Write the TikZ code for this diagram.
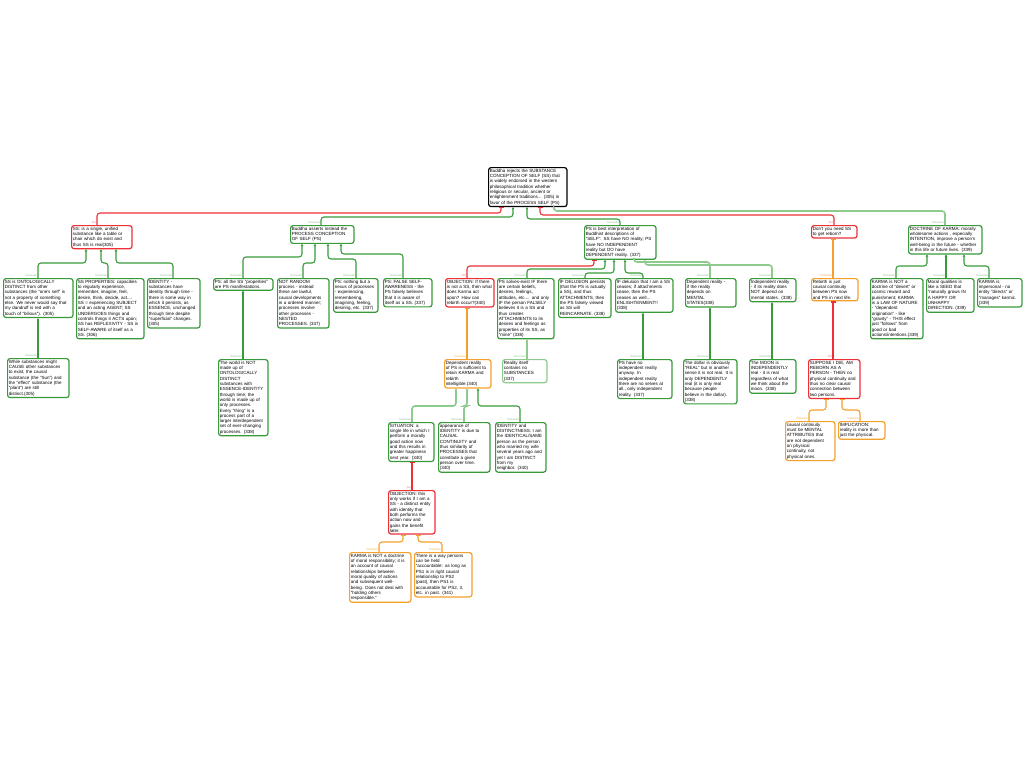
\documentclass[tikz,border=0pt]{standalone}
\usepackage{fontspec}
\setmainfont{Liberation Sans}
\usetikzlibrary{arrows.meta}
\definecolor{progreen}{HTML}{389A3A}
\definecolor{prolight}{HTML}{8CCB8C}
\definecolor{conred}{HTML}{EE3035}
\definecolor{rebut}{HTML}{F5A02A}
% parent, x at parent, y of the bend, child, x at child
\newcommand{\edgeto}[7]{\draw[#1] (#2.south -| #3,0) -- (#3,#4) -| (#5.north -| #6,0) node[lbl#1] {#7};}
\begin{document}
\begin{tikzpicture}[x=1pt,y=-1pt,
  box/.style={anchor=north west, align=left, rounded corners=2.5pt, line width=1.2pt, fill=white,
    inner xsep=1.2pt, inner ysep=1.5pt, font=\fontsize{4.5}{5.3}\selectfont},
  rootbox/.style={box, draw=black},
  gbox/.style={box, draw=progreen},
  glbox/.style={box, draw=prolight},
  rbox/.style={box, draw=conred},
  obox/.style={box, draw=rebut},
  pro/.style={draw=progreen, line width=1.1pt, rounded corners=3pt, {Triangle[length=2pt,width=2.6pt]}-},
  prol/.style={pro, draw=prolight, line width=1.6pt},
  con/.style={draw=conred, line width=1.1pt, rounded corners=3pt, {Bar[width=5pt]}-},
  reb/.style={con, draw=rebut},
  lbl/.style={anchor=south east, inner sep=0.5pt, font=\fontsize{3}{3}\selectfont},
  lblpro/.style={lbl, text=progreen!55},
  lblprol/.style={lblpro},
  lblcon/.style={lbl, text=conred!60},
  lblreb/.style={lbl, text=rebut!85}]
\useasboundingbox[fill=white] (0,0) rectangle (1024,768);

% claim
\node[rootbox, text width=76pt] (root) at (488,167) {Buddha rejects the SUBSTANCE\\CONCEPTION OF SELF (SS) that\\is widely endorsed in the western\\philosophical tradition whether\\religious or secular, ancient or\\enlightenment traditions... (305) in\\favor of the PROCESS SELF (PS)};

% first row
\node[rbox, text width=58pt] (ss) at (71,225) {SS: is a single, unified\\substance like a table or\\chair which do exist and\\thus SS is real(305)};
\node[gbox, text width=61pt] (ps) at (290,225) {Buddha asserts instead the\\PROCESS CONCEPTION\\OF SELF (PS)};
\node[gbox, text width=69pt] (best) at (584,225) {PS is best interpretation of\\Buddhist descriptions of\\"SELF": SS have NO reality; PS\\have NO INDEPENDENT\\reality but DO have\\DEPENDENT reality. (337)};
\node[rbox, text width=43pt] (reborn) at (811,225) {Don't you need SS\\to get reborn?};
\node[gbox, text width=71pt] (karma) at (908,225) {DOCTRINE OF KARMA: morally\\wholesome actions , especially\\INTENTION, improve a person's\\well-being in the future - whether\\in this life or future lives. (339)};

% under SS
\node[gbox, text width=67pt] (onto) at (3,278) {SS is ONTOLOGICALLY\\DISTINCT from other\\substances (the "one's self" is\\not a property of something\\else. We never would say that\\my dandruff is red with a\\touch of "bilious"). (305)};
\node[gbox, text width=65pt] (props) at (76,278) {SS PROPERTIES: capacities\\to regularly experience,\\remember, imagine, feel,\\desire, think, decide, act....\\SS = experiencing SUBJECT\\and an acting AGENT; SS\\UNDERGOES things and\\controls things it ACTS upon;\\SS has REFLEXIVITY - SS is\\SELF-AWARE of itself as a\\SS. (306)};
\node[gbox, text width=50pt] (ident) at (147,278) {IDENTITY -\\substances have\\identity through time -\\there is some way in\\which it persists, as\\ESSENCE, unchanged\\through time despite\\"superficial" changes.\\(305)};
\node[gbox, text width=59pt] (cause) at (7,358) {While substances might\\CAUSE other substances\\to exist, the causal\\substance (the "Sun") and\\the "effect" substance (the\\"plant") are still\\distinct.(305)};

% under PS
\node[gbox, text width=57pt] (psall) at (213,278) {PS: all the SS "properties"\\are PS manifestations.};
\node[gbox, text width=49pt] (random) at (277,278) {NOT RANDOM\\process - instead\\these are lawful,\\causal developments\\in a ordered manner;\\processes involve\\other processes -\\NESTED\\PROCESSES. (337)};
\node[gbox, text width=42pt] (nexus) at (333,278) {PS: nothing but a\\nexus of processes\\- experiencing,\\remembering,\\imagining, feeling,\\desiring, etc. (337)};
\node[gbox, text width=46pt] (false) at (383,278) {PS: FALSE SELF-\\AWARENESS - the\\PS falsely believes\\that it is aware of\\itself as a SS. (337)};
\node[gbox, text width=47pt] (world) at (218,359) {The world is NOT\\made up of\\ONTOLOGICALLY\\DISTINCT\\substances with\\ESSENCE-IDENTITY\\through time; the\\world is made up of\\only processes.\\Every "thing" is a\\process part of a\\larger interdependent\\set of ever-changing\\processes. (338)};

% under best interpretation
\node[rbox, text width=46pt] (objk) at (445,278) {OBJECTION: If there\\is not a SS, then what\\does Karma act\\upon? How can\\rebirth occur?(340)};
\node[gbox, text width=54pt] (solves) at (497,278) {PS solves-exist IF there\\are certain beliefs,\\desires, feelings,\\attitudes, etc.... and only\\IF the person FALSELY\\believes it is a SS and\\thus creates\\ATTACHMENTS to its\\desires and feelings as\\properties of its SS, as\\"mine" (338)};
\node[gbox, text width=50pt] (delus) at (558,278) {IF DELUSION persists\\(that the PS is actually\\a SS), and thus\\ATTACHMENTS, then\\the PS falsely viewed\\as SS will\\REINCARNATE. (338)};
\node[gbox, text width=55pt] (ceases) at (615,278) {IF delusion that I am a SS\\ceases; if attachments\\cease, then the PS\\ceases as well...\\ENLIGHTENMENT!!\\(338)};
\node[gbox, text width=48pt] (dep) at (685,278) {Dependent reality -\\if the reality\\depends on\\MENTAL\\STATES(338)};
\node[gbox, text width=44pt] (indep) at (749,278) {Independent reality\\- if its reality does\\NOT depend on\\mental states. (338)};

\node[obox, text width=44pt] (suff) at (444,359) {Dependent reality\\of PS is sufficient to\\retain KARMA and\\rebirth\\intelligible.(340)};
\node[glbox, text width=42pt] (noss) at (502,359) {Reality itself\\contains no\\SUBSTANCES\\(337)};
\node[gbox, text width=52pt] (noind) at (617,359) {PS have no\\independent reality\\anyway. In\\independent reality\\there are no selves at\\all., only independent\\reality. (337)};
\node[gbox, text width=51pt] (dollar) at (683,359) {The dollar is obviously\\"REAL" but in another\\sense it is not real. It is\\only DEPENDENTLY\\real (it is only real\\because people\\believe in the dollar).\\(338)};
\node[gbox, text width=44pt] (moon) at (749,359) {The MOON is\\INDEPENDENTLY\\real - it is real\\regardless of what\\we think about the\\moon. (338)};

\node[gbox, text width=43pt] (sit) at (388,422) {SITUATION: a\\single life in which I\\perform a morally\\good action now\\and this results in\\greater happiness\\next year. (340)};
\node[gbox, text width=49pt] (appear) at (438,422) {appearance of\\IDENTITY is due to\\CAUSAL\\CONTINUITY and\\thus similarity of\\PROCESSES that\\constitute a given\\person over time.\\(340)};
\node[gbox, text width=48pt] (idist) at (495,422) {IDENTITY and\\DISTINCTNESS: I am\\the IDENTICAL/SAME\\person as the person\\who married my wife\\several years ago and\\yet I am DISTINCT\\from my\\neighbor. (340)};
\node[rbox, text width=44pt] (objw) at (388,490) {OBJECTION: this\\only works if I am a\\SS - a distinct entity\\with identity that\\both performs the\\action now and\\gains the benefit\\later.};
\node[obox, text width=59pt] (notresp) at (349,552) {KARMA is NOT a doctrine\\of moral responsibility; it is\\an account of causal\\relationships between\\moral quality of actions\\and subsequent well-\\being. Does not deal with\\"holding others\\responsible."};
\node[obox, text width=55pt] (account) at (414,552) {There is a way persons\\can be held\\"accountable: as long as\\PS1 is in right causal\\relationship to PS2\\(past), then PS1 is\\accountable for PS2, 3,\\etc. in past. (341)};

% under rebirth question
\node[obox, text width=44pt] (contin) at (811,278) {Rebirth is just\\causal continuity\\between PS now\\and PS in next life.};
\node[rbox, text width=49pt] (suppose) at (808,359) {SUPPOSE I DIE, AM\\REBORN AS A\\PERSON - THEN no\\physical continuity and\\thus no clear causal\\connection between\\two persons.};
\node[obox, text width=47pt] (mental) at (785,421) {causal continuity\\must be MENTAL\\ATTRIBUTES that\\are not dependent\\on physical\\continuity, not\\physical ones.};
\node[obox, text width=44pt] (implic) at (838,421) {IMPLICATION:\\reality is more than\\just the physical.};

% under karma
\node[gbox, text width=50pt] (law) at (870,278) {KARMA is NOT a\\doctrine of "desert" or\\cosmic reward and\\punishment; KARMA\\is a LAW OF NATURE\\- "dependent\\origination" - like\\"gravity" - THIS effect\\just "follows" from\\good or bad\\actions/intentions.(339)};
\node[gbox, text width=45pt] (seed) at (926,278) {Moral qualities is\\like a SEED that\\"naturally grows IN\\A HAPPY OR\\UNHAPPY\\DIRECTION. (339)};
\node[gbox, text width=42pt] (imper) at (977,278) {KARMA is\\impersonal - no\\entity "directs" or\\"manages" karmic.\\(339)};

% links
\edgeto{con}{root}{501}{213}{ss}{97}{but}
\edgeto{pro}{root}{513}{217}{ps}{321}{because}
\edgeto{pro}{root}{527}{219}{best}{620}{because}
\edgeto{con}{root}{540}{215}{reborn}{834}{but}
\edgeto{prol}{root}{554}{211}{karma}{945}{because}

\edgeto{pro}{ss}{86}{263}{onto}{38}{because}
\edgeto{pro}{ss}{101}{263}{props}{108}{because}
\edgeto{pro}{ss}{116}{263}{ident}{173}{because}
\edgeto{pro}{onto}{38}{340}{cause}{38}{because}

\edgeto{pro}{ps}{302}{257}{psall}{243}{because}
\edgeto{pro}{ps}{315}{263}{random}{303}{because}
\edgeto{pro}{ps}{328}{259}{nexus}{356}{because}
\edgeto{pro}{ps}{341}{254}{false}{403}{because}
\edgeto{pro}{psall}{243}{340}{world}{243}{because}

\edgeto{con}{best}{594}{266}{objk}{467}{but}
\edgeto{pro}{best}{605}{269}{solves}{527}{because}
\edgeto{pro}{best}{614}{273}{delus}{585}{because}
\edgeto{pro}{best}{625}{273}{ceases}{643}{because}
\edgeto{prol}{best}{634}{262}{dep}{710}{because}
\edgeto{prol}{best}{645}{265}{indep}{772}{because}

\edgeto{reb}{objk}{467}{330}{suff}{467}{however}
\edgeto{prol}{solves}{527}{350}{noss}{527}{because}
\edgeto{prol}{suff}{456}{406}{sit}{412}{because}
\edgeto{prol}{suff}{467}{406}{appear}{464}{because}
\edgeto{pro}{suff}{478}{406}{idist}{520}{because}
\edgeto{con}{sit}{412}{475}{objw}{412}{but}
\edgeto{reb}{objw}{403}{542}{notresp}{379}{however}
\edgeto{reb}{objw}{418}{542}{account}{442}{however}

\edgeto{pro}{ceases}{643}{335}{noind}{643}{because}
\edgeto{pro}{dep}{710}{335}{dollar}{710}{because}
\edgeto{pro}{indep}{772}{335}{moon}{772}{because}

\edgeto{reb}{reborn}{833}{260}{contin}{833}{however}
\edgeto{con}{contin}{833}{330}{suppose}{833}{but}
\edgeto{reb}{suppose}{826}{410}{mental}{809}{however}
\edgeto{reb}{suppose}{842}{410}{implic}{860}{however}

\edgeto{pro}{karma}{927}{266}{law}{896}{because}
\edgeto{pro}{karma}{946}{266}{seed}{946}{because}
\edgeto{pro}{karma}{964}{266}{imper}{989}{because}
\end{tikzpicture}
\end{document}
